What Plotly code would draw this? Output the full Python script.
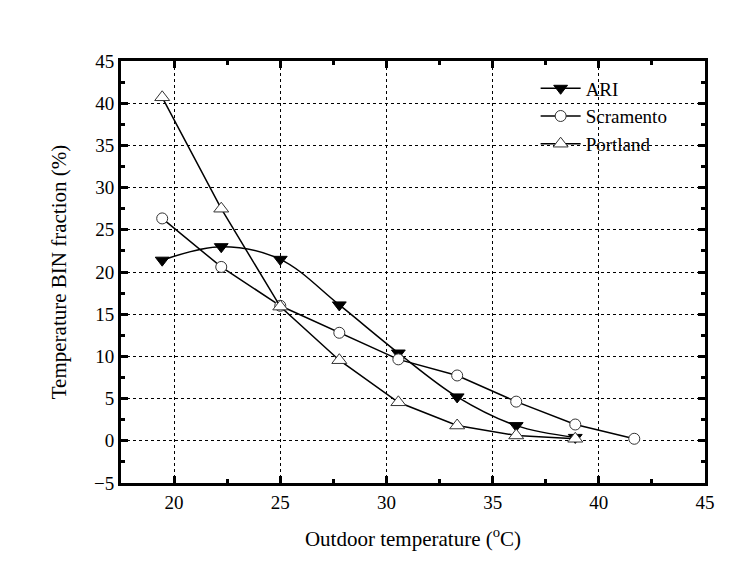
import plotly.graph_objects as go

temp_c = [19.44, 22.22, 25.0, 27.78, 30.56, 33.33, 36.11, 38.89, 41.67]
ari = [21.4, 23.0, 21.5, 16.1, 10.4, 5.2, 1.8, 0.4]
scramento = [26.35, 20.6, 16.0, 12.8, 9.65, 7.74, 4.64, 1.93, 0.24]
portland = [40.7, 27.5, 15.9, 9.55, 4.56, 1.81, 0.63, 0.24]

font_family = "Liberation Serif"

fig = go.Figure()
fig.add_trace(go.Scatter(
    x=temp_c[:len(ari)], y=ari, name="ARI", mode="lines+markers",
    line=dict(color="black", width=1.5, shape="spline", smoothing=1.0),
    marker=dict(symbol="triangle-down", size=12, color="black",
                line=dict(color="black", width=1))))
fig.add_trace(go.Scatter(
    x=temp_c[:len(scramento)], y=scramento, name="Scramento", mode="lines+markers",
    line=dict(color="black", width=1.5),
    marker=dict(symbol="circle", size=11, color="white",
                line=dict(color="#333333", width=1))))
fig.add_trace(go.Scatter(
    x=temp_c[:len(portland)], y=portland, name="Portland", mode="lines+markers",
    line=dict(color="black", width=1.5),
    marker=dict(symbol="triangle-up", size=13, color="white",
                line=dict(color="#333333", width=1))))

axis_common = dict(
    showline=True, linecolor="black", linewidth=3, mirror="ticks",
    ticks="inside", ticklen=7, tickwidth=3, tickcolor="black",
    showgrid=True, gridcolor="black", gridwidth=1, griddash="dot",
    zeroline=False,
    tickfont=dict(family=font_family, size=19, color="black"),
    minor=dict(ticks="inside", ticklen=4, tickwidth=3, tickcolor="black",
               dtick=2.5, showgrid=False),
)

fig.update_xaxes(range=[17.5, 45], dtick=5, tick0=0,
                 title=dict(text="Outdoor temperature (<sup>o</sup>C)",
                            font=dict(family=font_family, size=21, color="black"),
                            standoff=20),
                 **axis_common)
fig.update_yaxes(range=[-5, 45], dtick=5, tick0=0,
                 title=dict(text="Temperature BIN fraction (%)",
                            font=dict(family=font_family, size=21, color="black"),
                            standoff=22),
                 **axis_common)

fig.update_layout(
    width=751, height=571,
    margin=dict(l=113, r=54, t=53, b=96),
    paper_bgcolor="white", plot_bgcolor="white",
    font=dict(family=font_family, color="black"),
    legend=dict(x=0.71, y=0.98, xanchor="left", yanchor="top",
                bgcolor="rgba(0,0,0,0)", borderwidth=0,
                font=dict(family=font_family, size=19, color="black"),
                tracegroupgap=0, itemwidth=40),
)

fig.write_html("out.html")
